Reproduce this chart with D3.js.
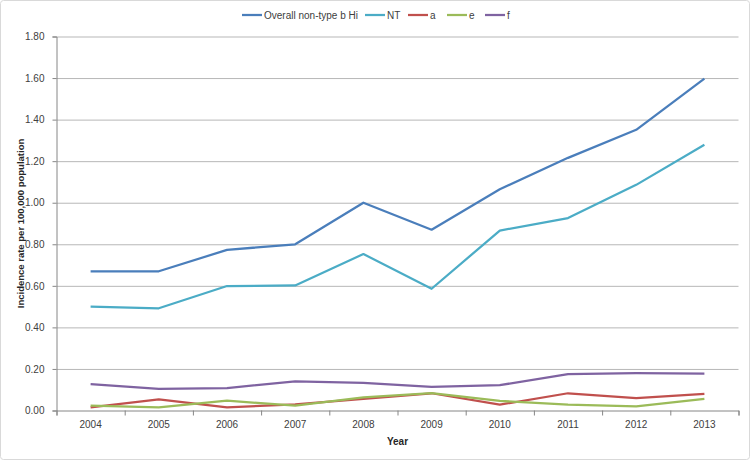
<!DOCTYPE html>
<html><head><meta charset="utf-8">
<script src="https://cdn.jsdelivr.net/npm/d3@7"></script>
<style>
body{margin:0;background:#fff;}
svg{display:block;font-family:"Liberation Sans",Arial,sans-serif;}
</style></head>
<body><svg id="c" width="750" height="460"></svg>
<script>
const years = ["2004","2005","2006","2007","2008","2009","2010","2011","2012","2013"];
const overall = [0.67,0.67,0.773,0.80,1.00,0.87,1.065,1.216,1.351,1.597];
const nt      = [0.50,0.492,0.599,0.602,0.753,0.586,0.866,0.926,1.086,1.279];
const typeA   = [0.015,0.054,0.015,0.030,0.056,0.083,0.028,0.083,0.059,0.080];
const typeE   = [0.024,0.015,0.047,0.024,0.063,0.084,0.046,0.028,0.020,0.056];
const typeF   = [0.127,0.104,0.108,0.140,0.133,0.114,0.122,0.175,0.180,0.178];
const yTicks  = [0,0.2,0.4,0.6,0.8,1.0,1.2,1.4,1.6,1.8];
const seriesNames = ["Overall non-type b Hi","NT","a","e","f"];
const seriesColors = ["#4a7ebb","#4bacc6","#c0504d","#9bbb59","#7f63a1"];
const seriesData = [overall, nt, typeA, typeE, typeF];

const svg = d3.select("#c");
const L = 56.5, R = 738.5, T = 36.5, B = 410.5;

svg.append("rect").attr("x",0.5).attr("y",0.5).attr("width",749).attr("height",459)
  .attr("rx",3).attr("fill","#fff").attr("stroke","#d9d9d9");

const x = d3.scaleBand().domain(years).range([L,R]).padding(0);
const y = d3.scaleLinear().domain([0,1.8]).range([B,T]);

// gridlines
const grid = svg.append("g").attr("transform",`translate(${L},0)`)
  .call(d3.axisLeft(y).tickValues(yTicks.slice(1)).tickSize(-(R-L)).tickFormat(""));
grid.select(".domain").remove();
grid.selectAll("line").attr("stroke","#b7b7b7");

// y axis
const ya = svg.append("g").attr("transform",`translate(${L},0)`)
  .call(d3.axisLeft(y).tickValues(yTicks).tickSize(4).tickPadding(8).tickFormat(d3.format(".2f")));
ya.select(".domain").attr("stroke","#868686");
ya.selectAll("line").attr("stroke","#868686");
ya.selectAll("text").attr("fill","#404040").style("font-size","10px");

// x axis: boundary ticks
const xb = d3.scaleLinear().domain([0,years.length]).range([L,R]);
const xa = svg.append("g").attr("transform",`translate(0,${B})`)
  .call(d3.axisBottom(xb).tickValues(d3.range(years.length+1)).tickSize(5).tickFormat(""));
xa.select(".domain").attr("stroke","#868686");
xa.selectAll("line").attr("stroke","#868686");
// x labels
const xl = svg.append("g").attr("transform",`translate(0,${B})`)
  .call(d3.axisBottom(x).tickSize(0).tickPadding(10));
xl.select(".domain").remove();
xl.selectAll("text").attr("fill","#404040").style("font-size","10px");

// titles
svg.append("text").attr("x",(L+R)/2).attr("y",445).attr("text-anchor","middle")
  .style("font-size","10px").style("font-weight","bold").attr("fill","#262626").text("Year");
svg.append("text").attr("transform",`translate(24,${(T+B)/2}) rotate(-90)`)
  .attr("text-anchor","middle").style("font-size","9.5px").style("font-weight","bold")
  .attr("fill","#262626").text("Incidence rate per 100,000 population");

// lines
const line = d3.line().x((d,i)=>x(years[i])+x.bandwidth()/2).y(d=>y(d));
seriesData.forEach((s,k)=>{
  svg.append("path").datum(s).attr("d",line).attr("fill","none")
    .attr("stroke",seriesColors[k]).attr("stroke-width",2.25).attr("stroke-linejoin","round");
});

// legend
const legX = [242,365,408,447,485];
const lg = svg.append("g");
seriesNames.forEach((n,k)=>{
  lg.append("line").attr("x1",legX[k]).attr("x2",legX[k]+20).attr("y1",15).attr("y2",15)
    .attr("stroke",seriesColors[k]).attr("stroke-width",2.25);
  lg.append("text").attr("x",legX[k]+22).attr("y",18.5).style("font-size","10px")
    .attr("fill","#404040").text(n);
});
</script></body></html>
